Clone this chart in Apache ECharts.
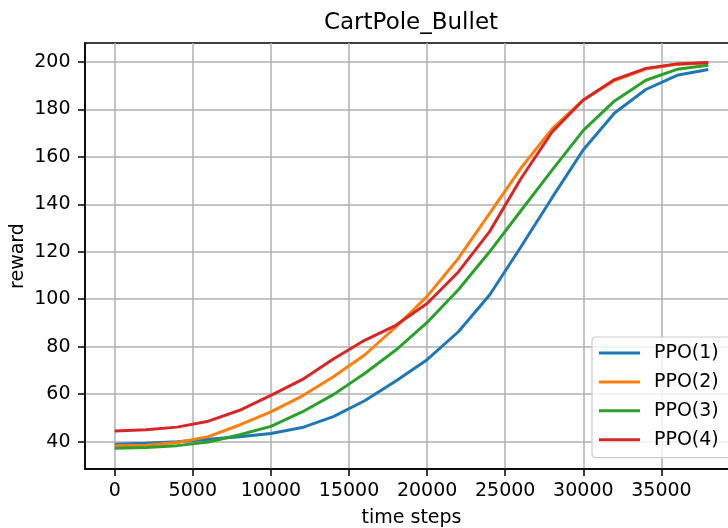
<!DOCTYPE html>
<html>
<head>
<meta charset="utf-8">
<script src="https://cdn.jsdelivr.net/npm/echarts@6/dist/echarts.min.js"></script>
<style>
  html, body { margin: 0; padding: 0; background: #fff; }
  #chart-container { width: 728px; height: 528px; }
</style>
</head>
<body>
<div id="chart-container"></div>
<script>
// data
var timeSteps = [0, 2000, 4000, 6000, 8000, 10000, 12000, 14000, 16000, 18000,
  20000, 22000, 24000, 26000, 28000, 30000, 32000, 34000, 36000, 38000];
var ppo1 = [38.9, 39.3, 39.9, 41.0, 42.0, 43.4, 45.9, 50.5, 57.2, 65.5,
  74.5, 86.3, 101.8, 122.0, 142.8, 163.0, 178.5, 188.4, 194.4, 196.8];
var ppo2 = [38.2, 38.5, 39.6, 42.1, 47.0, 52.5, 59.2, 67.3, 76.5, 88.3,
  101.2, 117.2, 136.2, 155.2, 171.8, 184.0, 192.2, 197.0, 199.0, 199.6];
var ppo3 = [37.2, 37.5, 38.3, 39.8, 42.9, 46.4, 52.5, 59.8, 68.7, 78.6,
  90.2, 104.0, 120.0, 137.3, 154.4, 171.2, 183.6, 192.3, 196.9, 198.6];
var ppo4 = [44.5, 45.0, 46.1, 48.6, 53.2, 59.5, 66.1, 74.8, 82.7, 89.0,
  98.2, 111.5, 128.5, 150.8, 170.5, 184.0, 192.6, 197.3, 199.2, 199.8];
var seriesNames = ["PPO(1)", "PPO(2)", "PPO(3)", "PPO(4)"];
var colors = ["#1f77b4", "#ff7f0e", "#2ca02c", "#d62728"];
var xTicks = [0, 5000, 10000, 15000, 20000, 25000, 30000, 35000];
var yTicks = [40, 60, 80, 100, 120, 140, 160, 180, 200];

var font = "DejaVu Sans";
var chartDom = document.getElementById("chart-container");
var myChart = echarts.init(chartDom, null, { renderer: "canvas" });

function pairs(ys) {
  return timeSteps.map(function (x, i) { return [x, ys[i]]; });
}

var allY = [ppo1, ppo2, ppo3, ppo4];

var option = {
  animation: false,
  color: colors,
  title: {
    text: "CartPole_Bullet",
    left: 411,
    top: 12,
    textAlign: "center",
    padding: 0,
    textStyle: { fontFamily: font, fontSize: 23, fontWeight: "normal", color: "#000" },
  },
  grid: {
    left: 85,
    top: 43,
    width: 653,
    height: 426,
    show: true,
    borderColor: "#000",
    borderWidth: 1.5,
    containLabel: false,
    outerBoundsMode: "none",
  },
  legend: {
    orient: "vertical",
    left: 592,
    top: 337,
    padding: [6, 40, 8, 7],
    itemGap: 8.9,
    itemWidth: 41,
    itemHeight: 3,
    icon: "rect",
    backgroundColor: "rgba(255,255,255,0.8)",
    borderColor: "#cccccc",
    borderWidth: 1.2,
    borderRadius: 4,
    textStyle: { fontFamily: font, fontSize: 19, color: "#000", lineHeight: 20, padding: [0, 0, 0, 9] },
    data: seriesNames,
  },
  xAxis: {
    type: "value",
    min: -1900,
    max: 39900,
    name: "time steps",
    nameLocation: "middle",
    nameGap: 40,
    nameMoveOverlap: false,
    nameTextStyle: { fontFamily: font, fontSize: 19, color: "#000" },
    axisLine: { show: true, onZero: false, lineStyle: { color: "#000", width: 1.5 } },
    axisTick: { show: true, length: 7, lineStyle: { color: "#000", width: 1.5 }, customValues: xTicks },
    axisLabel: {
      fontFamily: font, fontSize: 19, color: "#000", margin: 12.5, customValues: xTicks,
      formatter: function (v) { return String(v); },
    },
    splitLine: { show: true, lineStyle: { color: "#b0b0b0", width: 1.5 } },
  },
  yAxis: {
    type: "value",
    min: 28.45,
    max: 208,
    name: "reward",
    nameLocation: "middle",
    nameGap: 57,
    nameMoveOverlap: false,
    nameTextStyle: { fontFamily: font, fontSize: 19, color: "#000" },
    axisLine: { show: true, onZero: false, lineStyle: { color: "#000", width: 1.5 } },
    axisTick: { show: true, length: 7, lineStyle: { color: "#000", width: 1.5 }, customValues: yTicks },
    axisLabel: {
      fontFamily: font, fontSize: 19, color: "#000", margin: 14.5, customValues: yTicks,
      formatter: function (v) { return String(v); },
    },
    splitLine: { show: true, lineStyle: { color: "#b0b0b0", width: 1.5 } },
  },
  series: seriesNames.map(function (name, i) {
    return {
      name: name,
      type: "line",
      data: pairs(allY[i]),
      symbol: "none",
      lineStyle: { width: 3, color: colors[i] },
      itemStyle: { color: colors[i] },
      z: 3 + i,
    };
  }),
};

myChart.setOption(option);
</script>
</body>
</html>
